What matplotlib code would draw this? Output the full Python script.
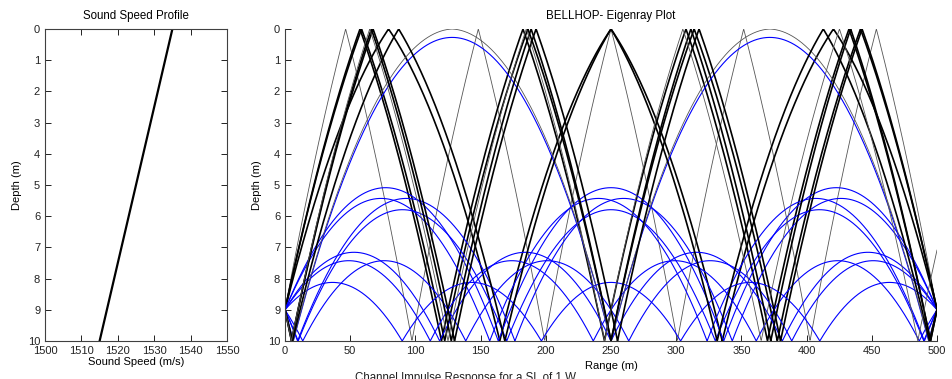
import numpy as np
import matplotlib
matplotlib.use('Agg')
import matplotlib.pyplot as plt

plt.rcParams['font.family'] = ['Liberation Sans', 'DejaVu Sans']
plt.rcParams['font.size'] = 8

# sound speed profile
ssp_depth = [0.0, 10.0]
ssp_speed = [1535.0, 1515.0]

# geometry
water_depth = 10.0
src_depth = 9.0
rcv_range = 500.0
rcv_depth = 9.0

# eigenray launch angles (deg, + = downward)
black_angles = [-11.0570, -10.9216, -9.4445, 9.6228, 11.0570, 11.1962]
grey_angles = [-12.6999, 8.7839, 11.34]
blue_angles = [-5.8082, -5.5481, -3.9906, -3.6880, -2.7555, 3.6880, 5.2607, 5.5481, 8.6518]


def ray_depth(theta, r):
    # linear profile -> circular arcs, bouncing off surface and bottom
    c_top = ssp_speed[0]
    grad = (ssp_speed[1] - ssp_speed[0]) / (ssp_depth[1] - ssp_depth[0])
    c = lambda z: c_top + grad * z
    K = c(src_depth) / np.cos(np.radians(theta))
    h = lambda z: np.sqrt(max(K**2 - c(z)**2, 0.0)) / abs(grad)
    htop = h(0.0) if K >= c_top else 0.0
    L = h(water_depth) - htop
    P = 2 * L
    hs = h(src_depth) - htop
    phi0 = hs if theta > 0 else P - hs
    m = np.mod(phi0 + r, P)
    hh = np.where(m <= L, htop + m, htop + P - m)
    cc = np.sqrt(np.maximum(K**2 - (grad * hh)**2, 0.0))
    return (cc - c_top) / grad


fig = plt.figure(figsize=(9.53, 3.79), dpi=100)
W, H = 953.0, 379.0
ax1 = fig.add_axes([45 / W, 1 - 341 / H, 182 / W, 312 / H])
ax2 = fig.add_axes([285 / W, 1 - 341 / H, 652 / W, 312 / H])

# sound speed profile
ax1.plot(ssp_speed, ssp_depth, color='k', lw=1.6)
ax1.set_xlim(1500, 1550)
ax1.set_ylim(10, 0)
ax1.set_xticks(np.arange(1500, 1551, 10))
ax1.set_yticks(np.arange(0, 11, 1))
ax1.set_title('Sound Speed Profile', fontsize=8.3, pad=7)
ax1.set_xlabel('Sound Speed (m/s)', labelpad=1)
ax1.set_ylabel('Depth (m)', labelpad=4)
ax1.tick_params(direction='in', length=4, top=True, right=True, width=0.7, colors='#222222')

# eigenrays
r = np.arange(0, rcv_range + 0.01, 0.25)
rays = [(a, 'k', 1.2) for a in black_angles] + [(a, '#555555', 0.6) for a in grey_angles] \
    + [(a, '#0000ff', 0.8) for a in blue_angles]
for a, col, lw in sorted(rays, key=lambda t: t[0]):
    ax2.plot(r, ray_depth(a, r), color=col, lw=lw)

ax2.set_xlim(0, rcv_range)
ax2.set_ylim(water_depth, 0)
ax2.set_xticks(np.arange(0, 501, 50))
ax2.set_yticks(np.arange(0, 11, 1))
ax2.set_title('BELLHOP- Eigenray Plot', fontsize=8.3, pad=7)
ax2.set_xlabel('Range (m)', labelpad=4)
ax2.set_ylabel('Depth (m)', labelpad=4)
ax2.tick_params(direction='in', length=4, width=0.7, colors='#222222')
ax2.spines['top'].set_visible(False)
ax2.spines['right'].set_visible(False)

for ax in (ax1, ax2):
    for s in ax.spines.values():
        s.set_color('#404040')
        s.set_linewidth(0.8)

fig.text(355 / W, 1 - 372 / H, 'Channel Impulse Response for a SL of 1 W', fontsize=8.3, va='top', color='#222222')

fig.savefig('out.png', dpi=100)
